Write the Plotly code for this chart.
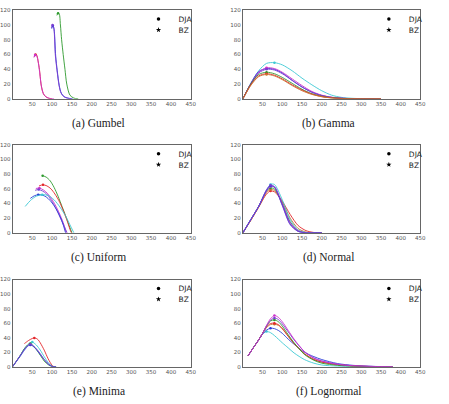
import plotly.graph_objects as go

# ---------------- data ----------------
# (a) Gumbel
gum_red_x = [55, 58, 60, 62, 65, 68, 72, 76, 80, 90, 100]
gum_red_y = [57, 60, 60, 58, 50, 40, 20, 10, 5, 1, 0]
gum_mag_x = [54, 57, 60, 63, 66, 69, 73, 78, 85, 95, 105]
gum_mag_y = [56, 59.5, 59, 55, 46, 34, 17, 7, 2.5, 0.5, 0]
gum_pur_x = [98, 101, 104, 108, 112, 117, 121, 126, 135, 149]
gum_pur_y = [96, 100, 97, 60, 40, 20, 10, 5, 1.5, 0]
gum_blu_x = [99, 102, 105, 109, 113, 118, 123, 130, 140, 152]
gum_blu_y = [95, 99, 94, 58, 38, 18, 8, 3, 1, 0]
gum_grn_x = [112, 115, 118, 121, 124, 128, 132.5, 137, 145, 155, 166]
gum_grn_y = [113, 116, 115, 100, 80, 60, 40, 20, 5, 1, 0]

# (b) Gamma
gam_x = [0, 20, 40, 60, 80, 100, 125, 150, 175, 200, 225, 250, 275, 300, 350]
gam_cyan = [0, 20, 38, 48, 49, 46, 38, 28, 19, 11, 5, 2, 0.8, 0.3, 0]
gam_blue = [0, 21, 37, 41, 40, 35, 25, 16, 9, 4.5, 2, 0.8, 0.3, 0.1, 0]
gam_mag = [0, 20, 36, 42, 41, 36, 27, 18, 10, 5, 2.2, 0.9, 0.3, 0.1, 0]
gam_pur = [0, 20, 35, 40, 39, 34, 25, 16, 9, 4.5, 2, 0.8, 0.3, 0.1, 0]
gam_grn = [0, 20, 33, 36, 34, 29, 21, 13, 7, 3.5, 1.5, 0.6, 0.2, 0.1, 0]
gam_red = [0, 19, 31, 34, 32, 27, 19, 12, 6.5, 3, 1.3, 0.5, 0.2, 0.1, 0]
gam_org = [0, 18, 30, 33, 31, 26, 18, 11, 6, 3, 1.2, 0.5, 0.2, 0, 0]

# (c) Uniform
uni_grn_x = [76, 85, 95, 105, 115, 125, 135, 145, 150]
uni_grn_y = [78, 76, 71, 62, 50, 36, 22, 7, 0]
uni_red_x = [67, 77, 87, 97, 107, 117, 127, 137, 147, 149]
uni_red_y = [64, 65.5, 64, 60, 53, 44, 32, 18, 2, 0]
uni_mag_x = [59, 68, 78, 88, 98, 108, 118, 128, 136]
uni_mag_y = [60.5, 61, 58.5, 54, 47, 38, 27, 14, 0]
uni_pur_x = [57, 66, 76, 86, 96, 106, 116, 126, 138]
uni_pur_y = [58, 59, 57, 53, 46, 37, 26, 14, 0]
uni_blu_x = [45, 55, 65, 75, 85, 95, 105, 115, 125, 134]
uni_blu_y = [47, 50.5, 52, 51.5, 49, 44, 37, 28, 16, 0]
uni_cyn_x = [32, 45, 60, 75, 90, 105, 120, 135, 145, 155]
uni_cyn_y = [36, 44, 50, 52, 51, 45, 35, 22, 11, 0]

# (d) Normal
nor_x = [0, 20, 40, 60, 70, 80, 100, 120, 140, 160, 180, 200]
nor_red = [0, 17, 35, 53, 57, 56, 43, 25, 10, 3, 0.5, 0]
nor_cyan = [0, 18, 36, 58, 66, 66, 45, 18, 4, 0.5, 0, 0]
nor_blue = [0, 18, 36, 58, 64, 62, 38, 12, 2, 0, 0, 0]
nor_mag = [0, 18, 36, 57, 63, 63, 40, 14, 3, 0, 0, 0]
nor_pur = [0, 18, 36, 59, 65, 63, 37, 11, 2, 0, 0, 0]
nor_grn = [0, 18, 36, 57, 61, 60, 40, 15, 3, 0, 0, 0]
nor_org = [0, 17, 35, 55, 59, 58, 42, 20, 6, 1, 0, 0]

# (e) Minima
min_x = [0, 10, 20, 30, 40, 45, 50, 60, 70, 80, 90, 100, 110]
min_pur = [0, 8, 16, 24, 30, 31, 30, 25, 18, 10, 4, 0.5, 0]
min_blue = [0, 7.5, 15, 23, 29, 30, 29, 24, 17, 10, 4, 0.5, 0]
min_grn = [0, 8, 16, 25, 31, 32, 30, 24, 16, 8, 3, 0.3, 0]
min_cyan = [0, 8, 16, 25, 31, 33, 34, 30, 23, 14, 6, 1, 0]
min_red_x = [30, 35, 40, 50, 55, 60, 65, 70, 80, 90, 100, 105]
min_red_y = [32, 34, 36, 39, 39.5, 39, 37, 33, 23, 11, 2, 0]

# (f) Lognormal
log_x = [13, 25, 40, 50, 60, 70, 80, 90, 100, 115, 130, 156, 180, 200, 240, 280, 330, 380]
log_cyan = [15, 25, 37, 45, 48.5, 47, 43, 38, 33, 26, 19, 10, 5, 2.5, 0.8, 0.3, 0.1, 0]
log_blue = [15, 25, 37, 45, 50.5, 53, 52.5, 50, 46, 38, 31, 20, 14, 10, 4.5, 2, 0.6, 0.1]
log_mag = [15, 25, 37, 46, 57, 66, 70.5, 68, 62, 50, 38, 21, 12, 8, 3.5, 1.5, 0.5, 0.1]
log_pur = [15, 25, 37, 46, 56, 64, 67, 65, 59, 48, 37, 21, 12, 8, 3.5, 1.5, 0.5, 0.1]
log_grn = [15, 25, 37, 46, 56, 63, 64.5, 62, 56, 44, 33, 17, 9, 5, 2, 0.8, 0.2, 0]
log_red = [15, 25, 37, 46, 55, 59.5, 60, 58, 53, 42, 32, 18, 10, 6.5, 3, 1.2, 0.3, 0]
log_org = [15, 25, 37, 46, 54, 58, 58.5, 57, 52, 42, 32, 18, 10, 6.5, 3, 1.2, 0.3, 0]

x_ticks = [50, 100, 150, 200, 250, 300, 350, 400, 450]
y_ticks = [0, 20, 40, 60, 80, 100, 120]
captions = ["(a) Gumbel", "(b) Gamma", "(c) Uniform", "(d) Normal", "(e) Minima", "(f) Lognormal"]
legend_names = ["DJA", "BZ"]

# ---------------- styles ----------------
C = dict(red="#e3262a", mag="#cc33cc", pur="#7a3cd0", blue="#2a3cd8",
         grn="#2e9a2e", cyan="#3cc8d4", org="#c9742e")

W, H = 449, 404
boxes = [  # left, right, top, bottom in px
    (11.7, 192.7, 7.3, 97.3), (245.7, 426.0, 7.3, 97.3),
    (11.7, 192.7, 144.0, 233.3), (245.7, 426.0, 144.0, 233.3),
    (11.7, 192.7, 280.7, 369.3), (245.7, 426.0, 280.7, 369.3),
]
cap_y = [122, 122, 258, 258, 394.5, 394.5]

panels = [
    [(gum_red_x, gum_red_y, "red"), (gum_mag_x, gum_mag_y, "mag"),
     (gum_blu_x, gum_blu_y, "blue"), (gum_pur_x, gum_pur_y, "pur"),
     (gum_grn_x, gum_grn_y, "grn")],
    [(gam_x, gam_cyan, "cyan"), (gam_x, gam_blue, "blue"), (gam_x, gam_mag, "mag"),
     (gam_x, gam_pur, "pur"), (gam_x, gam_grn, "grn"), (gam_x, gam_red, "red"),
     (gam_x, gam_org, "org")],
    [(uni_grn_x, uni_grn_y, "grn"), (uni_red_x, uni_red_y, "red"),
     (uni_mag_x, uni_mag_y, "mag"), (uni_pur_x, uni_pur_y, "pur"),
     (uni_blu_x, uni_blu_y, "blue"), (uni_cyn_x, uni_cyn_y, "cyan")],
    [(nor_x, nor_red, "red"), (nor_x, nor_org, "org"), (nor_x, nor_grn, "grn"),
     (nor_x, nor_cyan, "cyan"), (nor_x, nor_mag, "mag"), (nor_x, nor_blue, "blue"),
     (nor_x, nor_pur, "pur")],
    [(min_red_x, min_red_y, "red"), (min_x, min_cyan, "cyan"), (min_x, min_grn, "grn"),
     (min_x, min_blue, "blue"), (min_x, min_pur, "pur")],
    [(log_x, log_cyan, "cyan"), (log_x, log_blue, "blue"), (log_x, log_org, "org"),
     (log_x, log_red, "red"), (log_x, log_grn, "grn"), (log_x, log_pur, "pur"),
     (log_x, log_mag, "mag")],
]

fig = go.Figure()
layout = dict(width=W, height=H, margin=dict(l=0, r=0, t=0, b=0),
              paper_bgcolor="white", plot_bgcolor="white", annotations=[])

leg_idx = 0
for i, (box, curves) in enumerate(zip(boxes, panels)):
    n = i + 1
    xa = "x" if n == 1 else f"x{n}"
    ya = "y" if n == 1 else f"y{n}"
    l, r, t, b = box
    for xs, ys, col in curves:
        fig.add_trace(go.Scatter(x=xs, y=ys, mode="lines",
                                 line=dict(color=C[col], width=0.9, shape="spline", smoothing=0.8),
                                 showlegend=False, xaxis=xa, yaxis=ya, hoverinfo="skip"))
        pk = ys.index(max(ys))
        fig.add_trace(go.Scatter(x=[xs[pk]], y=[ys[pk]], mode="markers",
                                 marker=dict(color=C[col], size=2.5, symbol="circle"),
                                 showlegend=False, xaxis=xa, yaxis=ya, hoverinfo="skip"))
    for k, (name, sym, sz) in enumerate(zip(legend_names, ["circle", "star"], [3.5, 4])):
        leg_idx += 1
        lg = "legend" if leg_idx == 1 else f"legend{leg_idx}"
        fig.add_trace(go.Scatter(x=[None], y=[None], mode="markers", name=name,
                                 marker=dict(color="black", symbol=sym, size=sz),
                                 xaxis=xa, yaxis=ya, legend=lg))
        layout[lg] = dict(x=(l + 128) / W, y=1 - (t + 9 + 11 * k) / H, xanchor="left", yanchor="middle",
                          bgcolor="rgba(0,0,0,0)", font=dict(family="DejaVu Sans", size=7.5, color="#222"),
                          itemwidth=30)
    axk = "xaxis" if n == 1 else f"xaxis{n}"
    ayk = "yaxis" if n == 1 else f"yaxis{n}"
    common = dict(showline=True, mirror=True, linecolor="#666", linewidth=1, showgrid=False,
                  zeroline=False, ticks="", tickfont=dict(family="DejaVu Sans", size=5.5, color="#555"))
    layout[axk] = dict(domain=[l / W, r / W], range=[0, 450], tickvals=x_ticks, anchor=ya, **common)
    layout[ayk] = dict(domain=[1 - b / H, 1 - t / H], range=[0, 120], tickvals=y_ticks, anchor=xa, **common)
    layout["annotations"].append(dict(text=captions[i], x=((l + r) / 2 - 3) / W, y=1 - cap_y[i] / H,
                                      xref="paper", yref="paper", showarrow=False, xanchor="center",
                                      yanchor="middle", font=dict(family="Liberation Serif", size=11.5, color="#222")))

fig.update_layout(**layout)
fig.write_html("out.html")
